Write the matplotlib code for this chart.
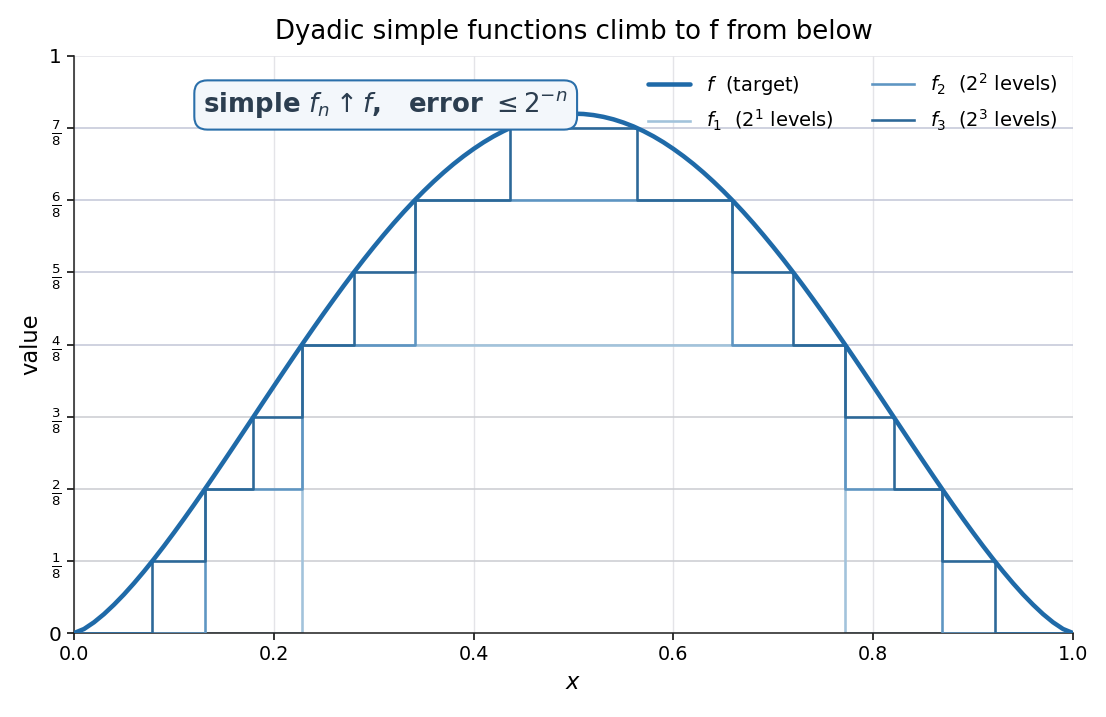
import matplotlib
matplotlib.use("Agg")
import matplotlib.pyplot as plt

# ---- data ----
x_f = [0.00, 0.01, 0.02, 0.03, 0.04, 0.05, 0.06, 0.07, 0.08, 0.09,
       0.10, 0.11, 0.12, 0.13, 0.14, 0.15, 0.16, 0.17, 0.18, 0.19,
       0.20, 0.21, 0.22, 0.23, 0.24, 0.25, 0.26, 0.27, 0.28, 0.29,
       0.30, 0.31, 0.32, 0.33, 0.34, 0.35, 0.36, 0.37, 0.38, 0.39,
       0.40, 0.41, 0.42, 0.43, 0.44, 0.45, 0.46, 0.47, 0.48, 0.49,
       0.50, 0.51, 0.52, 0.53, 0.54, 0.55, 0.56, 0.57, 0.58, 0.59,
       0.60, 0.61, 0.62, 0.63, 0.64, 0.65, 0.66, 0.67, 0.68, 0.69,
       0.70, 0.71, 0.72, 0.73, 0.74, 0.75, 0.76, 0.77, 0.78, 0.79,
       0.80, 0.81, 0.82, 0.83, 0.84, 0.85, 0.86, 0.87, 0.88, 0.89,
       0.90, 0.91, 0.92, 0.93, 0.94, 0.95, 0.96, 0.97, 0.98, 0.99, 1.00]
y_f = [0.0000, 0.0071, 0.0187, 0.0329, 0.0492, 0.0670, 0.0863, 0.1068, 0.1283, 0.1507,
       0.1739, 0.1977, 0.2221, 0.2470, 0.2723, 0.2979, 0.3237, 0.3497, 0.3757, 0.4018,
       0.4277, 0.4535, 0.4791, 0.5044, 0.5294, 0.5540, 0.5781, 0.6018, 0.6248, 0.6472,
       0.6689, 0.6899, 0.7102, 0.7296, 0.7481, 0.7657, 0.7824, 0.7981, 0.8128, 0.8264,
       0.8389, 0.8504, 0.8607, 0.8698, 0.8778, 0.8845, 0.8901, 0.8944, 0.8975, 0.8994,
       0.9000, 0.8994, 0.8975, 0.8944, 0.8901, 0.8845, 0.8778, 0.8698, 0.8607, 0.8504,
       0.8389, 0.8264, 0.8128, 0.7981, 0.7824, 0.7657, 0.7481, 0.7296, 0.7102, 0.6899,
       0.6689, 0.6472, 0.6248, 0.6018, 0.5781, 0.5540, 0.5294, 0.5044, 0.4791, 0.4535,
       0.4277, 0.4018, 0.3757, 0.3497, 0.3237, 0.2979, 0.2723, 0.2470, 0.2221, 0.1977,
       0.1739, 0.1507, 0.1283, 0.1068, 0.0863, 0.0670, 0.0492, 0.0329, 0.0187, 0.0071, 0.0000]

# step functions: edges and level on each piece
f1_edges = [0.0, 0.228, 0.772, 1.0]
f1_levels = [0.0, 0.5, 0.0]

f2_edges = [0.0, 0.131, 0.228, 0.341, 0.659, 0.772, 0.869, 1.0]
f2_levels = [0.0, 0.25, 0.5, 0.75, 0.5, 0.25, 0.0]

f3_edges = [0.0, 0.078, 0.131, 0.179, 0.228, 0.280, 0.341, 0.436, 0.564,
            0.659, 0.720, 0.772, 0.821, 0.869, 0.922, 1.0]
f3_levels = [0.0, 0.125, 0.25, 0.375, 0.5, 0.625, 0.75, 0.875, 0.75,
             0.625, 0.5, 0.375, 0.25, 0.125, 0.0]

y_ticks = [0, 1/8, 2/8, 3/8, 4/8, 5/8, 6/8, 7/8, 1]
y_ticklabels = ["0", r"$\frac{1}{8}$", r"$\frac{2}{8}$", r"$\frac{3}{8}$", r"$\frac{4}{8}$",
                r"$\frac{5}{8}$", r"$\frac{6}{8}$", r"$\frac{7}{8}$", "1"]
x_ticks = [0.0, 0.2, 0.4, 0.6, 0.8, 1.0]
x_ticklabels = ["0.0", "0.2", "0.4", "0.6", "0.8", "1.0"]

# ---- styles ----
c_f = "#1f6aa8"
c_f1 = "#a2c3db"
c_f2 = "#5e95c2"
c_f3 = "#2c6898"

fig = plt.figure(figsize=(8.848, 5.736), dpi=125)
ax = fig.add_axes([0.0669, 0.117, 0.9033, 0.805])

# grid
for xv in x_ticks:
    ax.axvline(xv, color="#e4e4e8", lw=0.8, zorder=0)
for yv in y_ticks[1:]:
    col = "#c4c7d8" if 0.4 < yv < 0.95 else "#cbcdd2"
    if yv == 1:
        col = "#e4e4e8"
    ax.axhline(yv, color=col, lw=0.9, zorder=0)

ax.step(f1_edges, f1_levels + [f1_levels[-1]], where="post", color=c_f1, lw=1.5,
        label=r"$f_1$  ($2^1$ levels)", zorder=2)
ax.step(f2_edges, f2_levels + [f2_levels[-1]], where="post", color=c_f2, lw=1.5,
        label=r"$f_2$  ($2^2$ levels)", zorder=3)
ax.step(f3_edges, f3_levels + [f3_levels[-1]], where="post", color=c_f3, lw=1.5,
        label=r"$f_3$  ($2^3$ levels)", zorder=4)
ax.plot(x_f, y_f, color=c_f, lw=2.6, label=r"$f$  (target)", zorder=5,
        solid_capstyle="round")

ax.set_xlim(0, 1)
ax.set_ylim(0, 1)
ax.set_xticks(x_ticks)
ax.set_xticklabels(x_ticklabels, fontsize=11)
ax.set_yticks(y_ticks)
ax.set_yticklabels(y_ticklabels)
for i, t in enumerate(ax.get_yticklabels()):
    t.set_fontsize(11.5 if i in (0, len(y_ticks) - 1) else 11)
ax.tick_params(length=4, width=0.9, pad=3)

for s in ("top", "right"):
    ax.spines[s].set_visible(False)
for s in ("left", "bottom"):
    ax.spines[s].set_linewidth(0.9)
    ax.spines[s].set_color("#222222")

ax.set_title("Dyadic simple functions climb to f from below", fontsize=15, pad=10)
ax.set_xlabel(r"$x$", fontsize=13)
ax.set_ylabel("value", fontsize=13)

handles, labels = ax.get_legend_handles_labels()
order = [3, 0, 1, 2]
ax.legend([handles[i] for i in order], [labels[i] for i in order], ncol=2,
          frameon=False, fontsize=11.2, loc="upper right",
          columnspacing=2.0, handlelength=2.15, labelspacing=0.55,
          handletextpad=0.8, borderaxespad=0.4)

ax.text(0.312, 0.915, r"simple $f_n \uparrow f$,   error $\leq 2^{-n}$",
        fontsize=15, fontweight="bold", color="#2c3e50", ha="center", va="center",
        bbox=dict(boxstyle="round,pad=0.35,rounding_size=0.5", fc="#f3f7fb",
                  ec="#2a6faa", lw=1.2), zorder=6)

fig.savefig("out.png", dpi=125)
